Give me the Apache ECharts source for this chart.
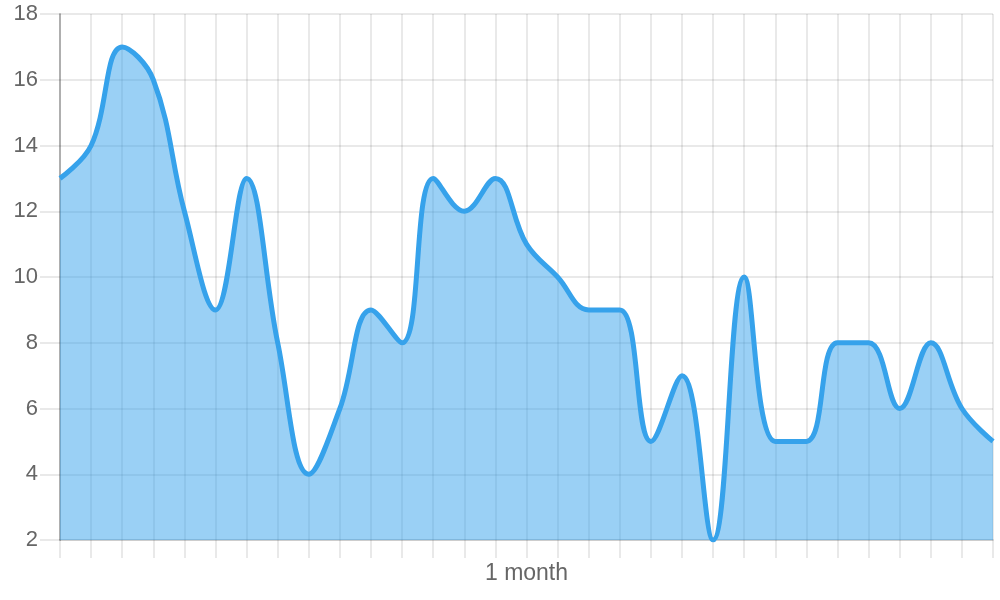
<!DOCTYPE html>
<html>
<head>
<meta charset="utf-8">
<script src="https://cdn.jsdelivr.net/npm/echarts@6/dist/echarts.min.js"></script>
<style>html,body{margin:0;padding:0;background:#fff}#c{width:1000px;height:600px}</style>
</head>
<body>
<div id="c"></div>
<script>
const categories = ['1','2','3','4','5','6','7','8','9','10','11','12','13','14','15','16','17','18','19','20','21','22','23','24','25','26','27','28','29','30','31'];
const values = [13,14,17,16,12,9,13,8,4,6,9,8,13,12,13,11,10,9,9,5,7,2,10,5,5,8,8,6,8,6,5];
const yTicks = {min:2, max:18, step:2};
const xTitle = '1 month';

const chart = echarts.init(document.getElementById('c'), null, {renderer:'canvas'});
const gridColor = 'rgba(0,0,0,0.085)';
chart.setOption({
  animation:false,
  grid:{left:60, right:7, top:14, bottom:60, containLabel:false},
  xAxis:{
    type:'category', data:categories, boundaryGap:false,
    name:xTitle, nameLocation:'middle', nameGap:22,
    nameTextStyle:{color:'#666', fontSize:23, fontFamily:'Liberation Sans', verticalAlign:'top'},
    axisLine:{show:true, lineStyle:{color:'rgba(0,0,0,0.12)', width:2}},
    axisTick:{show:true, interval:0, length:18, lineStyle:{color:gridColor, width:2}},
    axisLabel:{show:false},
    splitLine:{show:true, interval:0, lineStyle:{color:gridColor, width:2}}
  },
  yAxis:{
    type:'value', min:yTicks.min, max:yTicks.max, interval:yTicks.step,
    axisLine:{show:true, lineStyle:{color:'rgba(0,0,0,0.25)', width:2}},
    axisTick:{show:true, length:20, lineStyle:{color:gridColor, width:2}},
    axisLabel:{color:'#666', fontSize:22, fontFamily:'Liberation Sans', margin:22},
    splitLine:{show:true, lineStyle:{color:gridColor, width:2}}
  },
  series:[{
    type:'line', data:values, smooth:0.4, symbol:'none',
    lineStyle:{color:'rgb(54,162,235)', width:5},
    areaStyle:{color:'rgba(54,162,235,0.5)', opacity:1, origin:'start'}
  }]
});
</script>
</body>
</html>
